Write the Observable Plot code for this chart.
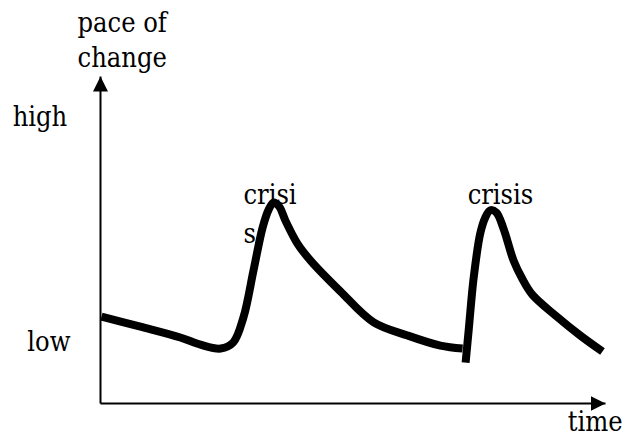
<!DOCTYPE html>
<html>
<head>
<meta charset="utf-8">
<script src="https://cdn.jsdelivr.net/npm/d3@7"></script>
<script src="https://cdn.jsdelivr.net/npm/@observablehq/plot@0.6"></script>
<style>
  html, body { margin: 0; padding: 0; background: #fff; }
  #chart svg { display: block; }
  #chart svg text { font-stretch: condensed; }
</style>
</head>
<body>
<div id="chart"></div>
<script>
// Axis extents (arbitrary units, no ticks in the original)
const timeDomain = [0, 100];
const paceDomain = [0, 100];

// Curve before the second crisis
const seg1Time = [0.2, 7.9, 15.8, 19.8, 23.8, 26.3, 28.3, 30.3, 32.1, 33.3, 34.3, 35.4, 36.6, 39.0, 41.6, 47.5, 54.1, 60.8, 67.3, 71.7];
const seg1Pace = [26.6, 23.5, 20.2, 18.0, 16.8, 18.7, 26.3, 40.7, 53.8, 59.3, 61.5, 60.2, 56.0, 48.9, 43.7, 34.3, 24.8, 20.8, 17.7, 16.8];

// Curve from the second crisis on
const seg2Time = [72.3, 72.9, 73.9, 75.2, 76.2, 77.2, 78.4, 79.8, 81.8, 83.6, 85.5, 90.1, 95.0, 99.4];
const seg2Pace = [12.5, 22.3, 38.5, 52.0, 56.9, 59.1, 58.4, 53.5, 43.7, 37.9, 33.3, 26.9, 20.8, 15.9];

// Text labels and their anchor points (data units)
const labelText = ["pace of", "change", "high", "low", "time", "crisi", "s", "crisis"];
const labelTime = [-4.55, -4.55, -17.4, -14.5, 92.5, 28.3, 28.3, 72.7];
const labelPace = [113.5, 102.8, 85.0, 16.2, -8.3, 60.9, 49.2, 60.9];

const curve = [
  ...seg1Time.map((t, i) => ({t, p: seg1Pace[i], s: 1})),
  ...seg2Time.map((t, i) => ({t, p: seg2Pace[i], s: 2}))
];
const labels = labelText.map((text, i) => ({text, t: labelTime[i], p: labelPace[i]}));

function filledArrow(color, context) {
  const doc = (context && context.document) || document;
  const ns = "http://www.w3.org/2000/svg";
  const m = doc.createElementNS(ns, "marker");
  m.setAttribute("viewBox", "-15 -7.5 15 15");
  m.setAttribute("markerWidth", 15);
  m.setAttribute("markerHeight", 15);
  m.setAttribute("markerUnits", "userSpaceOnUse");
  m.setAttribute("orient", "auto");
  m.setAttribute("refX", 0);
  m.setAttribute("refY", 0);
  const path = doc.createElementNS(ns, "path");
  path.setAttribute("d", "M-15,-7.5L0,0L-15,7.5Z");
  path.setAttribute("fill", color);
  path.setAttribute("stroke", "none");
  m.appendChild(path);
  return m;
}

const chart = Plot.plot({
  width: 627,
  height: 437,
  marginLeft: 100,
  marginRight: 22,
  marginTop: 76,
  marginBottom: 34,
  style: {background: "#fff", overflow: "visible"},
  x: {domain: timeDomain, axis: null},
  y: {domain: paceDomain, axis: null},
  marks: [
    Plot.link([0], {x1: timeDomain[0], x2: timeDomain[1], y1: paceDomain[0], y2: paceDomain[0], stroke: "#000", strokeWidth: 2, markerEnd: filledArrow}),
    Plot.link([0], {x1: timeDomain[0], x2: timeDomain[0], y1: paceDomain[0], y2: paceDomain[1], stroke: "#000", strokeWidth: 2, markerEnd: filledArrow}),
    Plot.line(curve, {x: "t", y: "p", z: "s", curve: "catmull-rom", stroke: "#000", strokeWidth: 8, strokeLinecap: "butt", strokeLinejoin: "round"}),
    Plot.text(labels, {x: "t", y: "p", text: "text", textAnchor: "start", lineAnchor: "bottom", fontSize: 27, fontFamily: "'DejaVu Serif Condensed', 'DejaVu Serif', serif", fill: "#000"})
  ]
});
document.getElementById("chart").appendChild(chart);
</script>
</body>
</html>
